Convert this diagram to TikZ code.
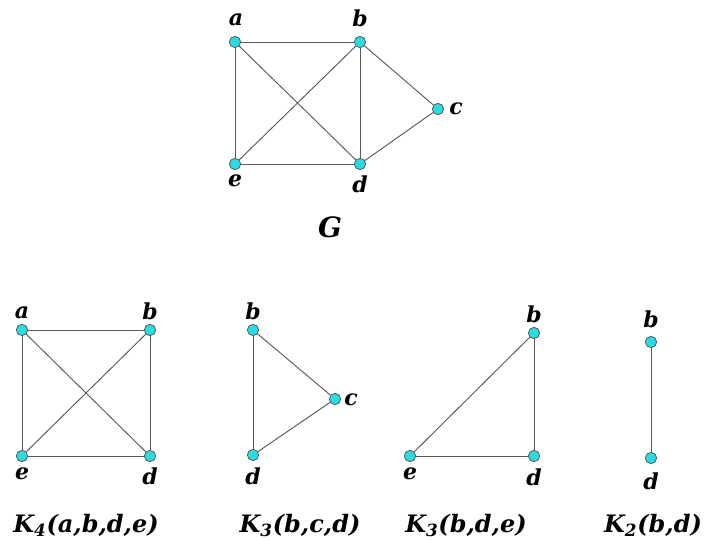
\documentclass[tikz,border=0pt]{standalone}
\usepackage{fontspec}
\setmainfont{DejaVu Serif}
\definecolor{vcyan}{RGB}{40,220,225}

\begin{document}
\begin{tikzpicture}[
    x=0.75pt, y=-0.75pt, % pixel units, y pointing down
    every edge/.style={draw, black!65, line width=0.7pt},
    vert/.style={circle, draw=black!65, fill=vcyan, line width=0.6pt, inner sep=0pt, minimum size=8.5pt},
    lbl/.style={inner sep=0pt, font=\fontsize{16.5}{16.5}\selectfont\bfseries\itshape},
    ttl/.style={inner sep=0pt, anchor=base, font=\fontsize{18}{18}\selectfont\bfseries\itshape}
]
\useasboundingbox (0,0) rectangle (706,541);

% graph G
\node[vert] (Ga) at (235, 42) {};
\node[vert] (Gb) at (360, 42) {};
\node[vert] (Gc) at (438, 109) {};
\node[vert] (Gd) at (360, 164) {};
\node[vert] (Ge) at (235, 164) {};
\node[lbl] (GaL) at (236, 20) {a};
\node[lbl] (GbL) at (360, 18) {b};
\node[lbl] (GcL) at (456, 109) {c};
\node[lbl] (GdL) at (360, 184) {d};
\node[lbl] (GeL) at (235, 181) {e};
\node[ttl, font=\fontsize{21}{21}\selectfont\bfseries\itshape] (GT) at (330, 238) {G};

\draw (Ga) edge (Gb);
\draw (Ga) edge (Ge);
\draw (Ga) edge (Gd);
\draw (Gb) edge (Ge);
\draw (Gb) edge (Gd);
\draw (Gb) edge (Gc);
\draw (Gc) edge (Gd);
\draw (Ge) edge (Gd);

% K4(a,b,d,e)
\node[vert] (Pa) at (22, 330) {};
\node[vert] (Pb) at (150, 330) {};
\node[vert] (Pd) at (150, 456) {};
\node[vert] (Pe) at (22, 456) {};
\node[lbl] (PaL) at (22, 313) {a};
\node[lbl] (PbL) at (150, 311) {b};
\node[lbl] (PdL) at (150, 476) {d};
\node[lbl] (PeL) at (22, 474) {e};
\node[ttl] (PT) at (86, 532) {K\textsubscript{4}(a,b,d,e)};

\draw (Pa) edge (Pb);
\draw (Pa) edge (Pe);
\draw (Pa) edge (Pd);
\draw (Pb) edge (Pe);
\draw (Pb) edge (Pd);
\draw (Pe) edge (Pd);

% K3(b,c,d)
\node[vert] (Qb) at (253, 330) {};
\node[vert] (Qc) at (335, 399) {};
\node[vert] (Qd) at (253, 455) {};
\node[lbl] (QbL) at (253, 311) {b};
\node[lbl] (QcL) at (351, 400) {c};
\node[lbl] (QdL) at (253, 476) {d};
\node[ttl] (QT) at (300, 532) {K\textsubscript{3}(b,c,d)};

\draw (Qb) edge (Qc);
\draw (Qb) edge (Qd);
\draw (Qc) edge (Qd);

% K3(b,d,e)
\node[vert] (Rb) at (534, 333) {};
\node[vert] (Rd) at (534, 456) {};
\node[vert] (Re) at (410, 456) {};
\node[lbl] (RbL) at (534, 314) {b};
\node[lbl] (RdL) at (534, 477) {d};
\node[lbl] (ReL) at (410, 474) {e};
\node[ttl] (RT) at (466, 532) {K\textsubscript{3}(b,d,e)};

\draw (Rb) edge (Rd);
\draw (Rb) edge (Re);
\draw (Re) edge (Rd);

% K2(b,d)
\node[vert] (Sb) at (651, 342) {};
\node[vert] (Sd) at (651, 458) {};
\node[lbl] (SbL) at (651, 319) {b};
\node[lbl] (SdL) at (651, 481) {d};
\node[ttl] (ST) at (653, 532) {K\textsubscript{2}(b,d)};

\draw (Sb) edge (Sd);

\end{tikzpicture}
\end{document}
